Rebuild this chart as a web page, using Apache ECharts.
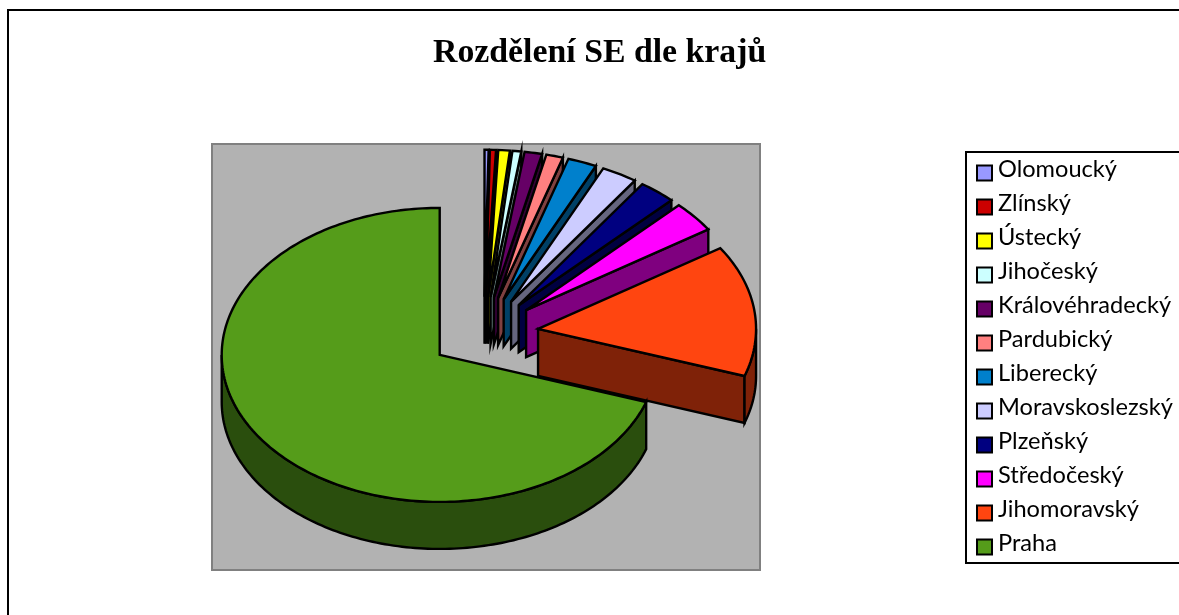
<!DOCTYPE html>
<html>
<head>
<meta charset="utf-8">
<style>
  html, body { margin: 0; padding: 0; background: #fff; }
  #chart { width: 1179px; height: 615px; }
</style>
<script src="https://cdn.jsdelivr.net/npm/echarts@6/dist/echarts.min.js"></script>
</head>
<body>
<div id="chart"></div>
<script>
// podíl krajů v %
const regions = ['Olomoucký', 'Zlínský', 'Ústecký', 'Jihočeský', 'Královéhradecký', 'Pardubický', 'Liberecký', 'Moravskoslezský', 'Plzeňský', 'Středočeský', 'Jihomoravský', 'Praha']
const shares = [0.3, 0.45, 0.85, 0.65, 1.3, 1.25, 2.15, 2.65, 2.75, 3.4, 14.45, 69.8]
const topColors = ['#9999FF', '#CC0000', '#FFFF00', '#CCFFFF', '#660066', '#FF8080', '#0080CC', '#CCCCFF', '#000080', '#FF00FF', '#FF4510', '#559C1A']

// rozložení koláče
const cx = 484
const cy = 333.5
const rx = 218
const ry = 147
const depth = 47
const explode = 0.25

const total = shares.reduce((a, b) => a + b, 0)
const toRad = (share) => share / total * Math.PI * 2

// tmavší barva boční stěny
function darken (hex) {
  const n = parseInt(hex.slice(1), 16)
  const r = (n >> 16) >> 1
  const g = ((n >> 8) & 255) >> 1
  const b = (n & 255) >> 1
  return `rgb(${r},${g},${b})`
}

// bod na elipse, úhel se měří od 12 hodin po směru hodinových ručiček
function onRim (ox, oy, t) {
  return [ox + rx * Math.sin(t), oy - ry * Math.cos(t)]
}

function arcPoints (ox, oy, t0, t1) {
  const steps = Math.max(2, Math.ceil((t1 - t0) / 0.02))
  const pts = []
  for (let i = 0; i <= steps; i++) {
    pts.push(onRim(ox, oy, t0 + (t1 - t0) * i / steps))
  }
  return pts
}

function face (points, fill) {
  return {
    type: 'polygon',
    shape: { points },
    style: { fill, stroke: '#000', lineWidth: 2.4, lineJoin: 'miter', miterLimit: 10 }
  }
}

function sliceRenderer (index) {
  const before = shares.slice(0, index).reduce((a, b) => a + b, 0)
  const t0 = toRad(before)
  const t1 = toRad(before + shares[index])
  const mid = (t0 + t1) / 2
  const ox = cx + explode * rx * Math.sin(mid)
  const oy = cy - explode * ry * Math.cos(mid)
  const top = topColors[index]
  const side = darken(top)

  return function () {
    const children = []
    // radiální stěna na konci výseče
    if (Math.sin(t1) > 0.01) {
      const p = onRim(ox, oy, t1)
      children.push(face([[ox, oy], p, [p[0], p[1] + depth], [ox, oy + depth]], side))
    }
    // vnější stěna, jen přední část elipsy
    const a = Math.max(t0, Math.PI / 2)
    const b = Math.min(t1, Math.PI * 1.5)
    if (b > a) {
      const upper = arcPoints(ox, oy, a, b)
      const lower = arcPoints(ox, oy + depth, a, b).reverse()
      children.push(face(upper.concat(lower), side))
    }
    // horní plocha
    children.push(face([[ox, oy]].concat(arcPoints(ox, oy, t0, t1)), top))
    return { type: 'group', children }
  }
}

const chart = echarts.init(document.getElementById('chart'))

chart.setOption({
  animation: false,
  title: {
    text: 'Rozdělení SE dle krajů',
    left: 433,
    top: 36,
    padding: 0,
    textStyle: {
      fontFamily: 'Liberation Serif',
      fontWeight: 'bold',
      fontSize: 33.8,
      color: '#000'
    }
  },
  legend: {
    orient: 'vertical',
    left: 966,
    top: 152,
    padding: [5, 60, 0, 10],
    itemWidth: 15,
    itemHeight: 15,
    itemGap: 2,
    icon: 'rect',
    selectedMode: false,
    backgroundColor: '#fff',
    borderColor: '#000',
    borderWidth: 2,
    borderRadius: 0,
    itemStyle: { borderColor: '#000', borderWidth: 2 },
    formatter: '{t|{name}}',
    textStyle: {
      rich: {
        // text sedí o kousek výš než čtvereček
        t: {
          fontFamily: 'Lato',
          fontSize: 23.6,
          lineHeight: 16,
          color: '#000',
          padding: [0, 0, 8, 1]
        }
      }
    },
    data: regions
  },
  graphic: [
    {
      type: 'rect',
      z: 0,
      shape: { x: 8, y: 10, width: 1300, height: 800 },
      style: { fill: '#fff', stroke: '#000', lineWidth: 2 }
    },
    {
      type: 'rect',
      z: 1,
      shape: { x: 212, y: 144, width: 548, height: 426 },
      style: { fill: '#B2B2B2', stroke: '#808080', lineWidth: 2 }
    }
  ],
  series: regions.map((name, i) => ({
    type: 'custom',
    name,
    coordinateSystem: 'none',
    silent: true,
    itemStyle: { color: topColors[i] },
    data: [shares[i]],
    renderItem: sliceRenderer(i)
  }))
})
</script>
</body>
</html>
